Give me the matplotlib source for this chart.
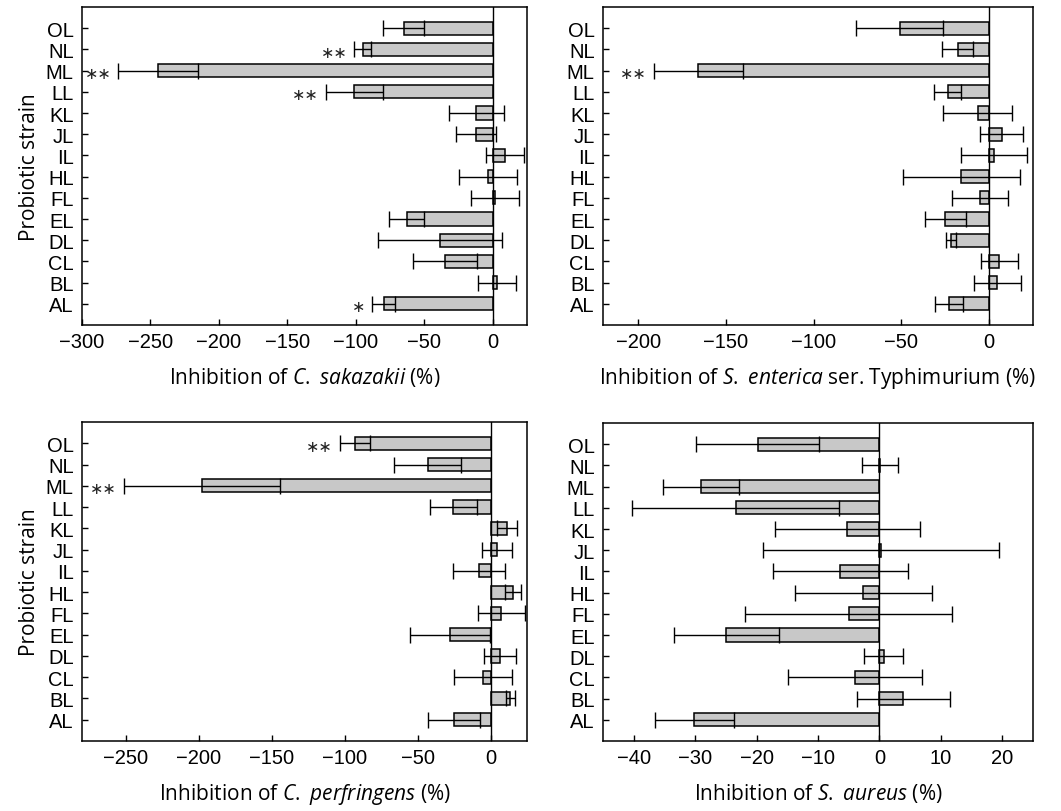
import matplotlib
matplotlib.use("Agg")
import matplotlib.pyplot as plt
import numpy as np

plt.rcParams['font.family'] = ['Liberation Sans', 'DejaVu Sans']
plt.rcParams['mathtext.fontset'] = 'custom'
plt.rcParams['mathtext.rm'] = 'Open Sans'
plt.rcParams['mathtext.it'] = 'Open Sans:italic'

strains = ["AL", "BL", "CL", "DL", "EL", "FL", "HL", "IL", "JL", "KL", "LL", "ML", "NL", "OL"]

# C. sakazakii
sak_mean = [-79.7, 3.0, -34.7, -38.5, -63.0, 1.5, -3.5, 9.0, -12.2, -12.0, -101.0, -244.5, -95.0, -65.0]
sak_err = [8.3, 14.0, 23.3, 45.5, 13.0, 17.5, 21.5, 14.0, 14.6, 20.0, 21.0, 29.0, 6.0, 15.0]
sak_sig = {"AL": "∗", "LL": "∗∗", "ML": "∗∗", "NL": "∗∗"}

# S. enterica ser. Typhimurium
ent_mean = [-22.7, 4.6, 5.9, -21.6, -25.0, -5.0, -15.8, 2.8, 7.2, -6.5, -23.7, -165.7, -18.0, -51.0]
ent_err = [7.9, 13.3, 10.3, 3.0, 11.7, 15.9, 33.2, 18.8, 12.2, 19.7, 7.9, 25.5, 8.7, 25.0]
ent_sig = {"ML": "∗∗"}

# C. perfringens
per_mean = [-25.2, 13.5, -5.0, 6.5, -28.0, 7.5, 15.5, -8.0, 4.3, 11.2, -25.5, -198.0, -43.0, -93.2]
per_err = [17.9, 3.2, 19.7, 11.0, 27.5, 16.0, 5.5, 17.8, 10.3, 7.0, 16.2, 53.5, 23.0, 10.3]
per_sig = {"ML": "∗∗", "OL": "∗∗"}

# S. aureus
aur_mean = [-30.1, 3.9, -4.0, 0.7, -24.9, -5.0, -2.6, -6.4, 0.2, -5.2, -23.4, -29.0, 0.1, -19.8]
aur_err = [6.4, 7.6, 10.9, 3.2, 8.5, 16.8, 11.1, 11.0, 19.2, 11.8, 16.9, 6.2, 2.9, 10.0]
aur_sig = {}

panels = [
    (sak_mean, sak_err, sak_sig, r"Inhibition of $\it{C.\ sakazakii}$ (%)", (-300, 25), np.arange(-300, 1, 50)),
    (ent_mean, ent_err, ent_sig, r"Inhibition of $\it{S.\ enterica}$ ser. Typhimurium (%)", (-220, 25), np.arange(-200, 1, 50)),
    (per_mean, per_err, per_sig, r"Inhibition of $\it{C.\ perfringens}$ (%)", (-280, 25), np.arange(-250, 1, 50)),
    (aur_mean, aur_err, aur_sig, r"Inhibition of $\it{S.\ aureus}$ (%)", (-45, 25), np.arange(-40, 21, 10)),
]

rects = [
    [0.0773, 0.5985, 0.4194, 0.3916],
    [0.5683, 0.5985, 0.4053, 0.3916],
    [0.0773, 0.0862, 0.4194, 0.3929],
    [0.5683, 0.0862, 0.4053, 0.3916],
]

fig = plt.figure(figsize=(10.61, 8.12), dpi=100)

for i, (mean, err, sig, label, xlim, xticks) in enumerate(panels):
    ax = fig.add_axes(rects[i])
    y = np.arange(len(strains))
    ax.barh(y, mean, height=0.62, color="#c8c8c8", edgecolor="black", linewidth=1.1, zorder=2)
    ax.errorbar(mean, y, xerr=err, fmt="none", ecolor="black", elinewidth=1.0,
                capsize=6, capthick=1.0, zorder=3)
    ax.axvline(0, color="black", linewidth=1.0, zorder=4)
    for s, txt in sig.items():
        k = strains.index(s)
        ax.annotate(txt, (mean[k] - err[k], k), xytext=(-5, -2), textcoords="offset points",
                    ha="right", va="center", fontsize=11.5, color="#222222", family="DejaVu Sans")
    ax.set_xlim(*xlim)
    ax.set_ylim(-1, 14)
    ax.set_xticks(xticks)
    ax.set_yticks(y)
    ax.set_yticklabels(strains)
    ax.tick_params(direction="in", length=4, width=1, labelsize=14.5, pad=6)
    ax.tick_params(axis="x", pad=5)
    for sp in ax.spines.values():
        sp.set_linewidth(1.1)
    ax.set_xlabel(label, fontsize=15, family="Open Sans", labelpad=10)
    if i % 2 == 0:
        ax.set_ylabel("Probiotic strain", fontsize=15, family="Open Sans", labelpad=4)

fig.savefig("out.png", dpi=100)
